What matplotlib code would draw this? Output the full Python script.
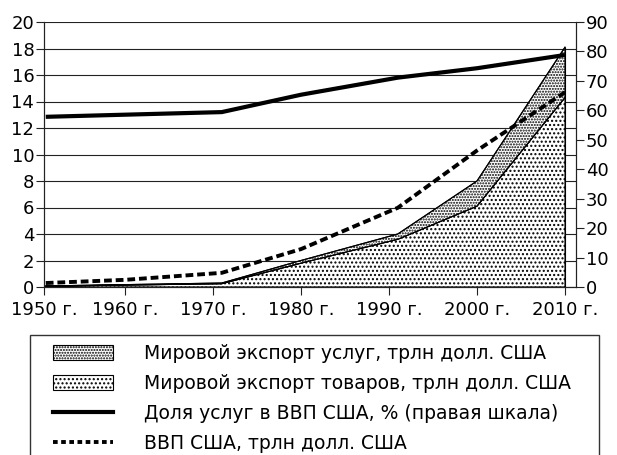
import matplotlib
matplotlib.use("Agg")
import matplotlib.pyplot as plt
from matplotlib.patches import Patch, Rectangle
from matplotlib.lines import Line2D

plt.rcParams['font.family'] = ['DejaVu Sans']
plt.rcParams['hatch.linewidth'] = 1.0
plt.rcParams['hatch.color'] = 'black'

# ---- data ----
area_years = [1951, 1971, 1980, 1991, 2000, 2010]
goods_exports = [0.06, 0.25, 1.8, 3.6, 6.1, 14.3]       # trln USD
services_exports = [0.02, 0.05, 0.2, 0.4, 1.9, 3.8]     # trln USD (stacked)
share_years = [1951, 1971, 1980, 1991, 2000, 2010]
services_share = [57.8, 59.4, 65.3, 71.1, 74.3, 78.8]  # % (right axis)
gdp_years = [1951, 1960, 1971, 1980, 1991, 2000, 2010]
us_gdp = [0.3, 0.54, 1.07, 2.86, 5.98, 10.3, 14.7]      # trln USD

tick_years = [1950, 1960, 1970, 1980, 1990, 2000, 2010]
tick_labels = [f"{y} г." for y in tick_years]
left_ticks = list(range(0, 21, 2))
right_ticks = list(range(0, 91, 10))

labels = ["Мировой экспорт услуг, трлн долл. США",
          "Мировой экспорт товаров, трлн долл. США",
          "Доля услуг в ВВП США, % (правая шкала)",
          "ВВП США, трлн долл. США"]

x_left, x_right = 1950.8, 2011.25
W, H = 617, 455

fig = plt.figure(figsize=(W/100, H/100), dpi=100)
ax = fig.add_axes([44/W, 1-287/H, (576-44)/W, (287-22)/H])
ax2 = ax.twinx()

total = [g + s for g, s in zip(goods_exports, services_exports)]

ax.fill_between(area_years, 0, goods_exports, facecolor='white',
                hatch='....', edgecolor='black', linewidth=0.8, zorder=2)
ax.fill_between(area_years, goods_exports, total, facecolor='white',
                hatch='......', edgecolor='black', linewidth=0.8, zorder=2)
ax.plot(area_years, goods_exports, color='black', lw=0.8, zorder=3)
ax.plot(area_years, total, color='black', lw=0.8, zorder=3)
ax.vlines(area_years[-1], 0, total[-1], color='black', lw=0.8, zorder=3)

ax.plot(gdp_years, us_gdp, color='black', lw=2.8, dashes=(2.0, 1.0),
        zorder=4)
ax2.plot(share_years, services_share, color='black', lw=3.0,
         solid_capstyle='butt', zorder=4)

ax.set_xlim(x_left, x_right)
ax.set_ylim(0, 20)
ax2.set_ylim(0, 90)

xt = [max(t, x_left) for t in tick_years]
ax.set_xticks(xt)
ax.set_xticklabels(tick_labels)
ax.set_yticks(left_ticks)
ax2.set_yticks(right_ticks)

ax.yaxis.grid(True, color='#222222', lw=0.8, zorder=0)
ax.set_axisbelow(True)

for a in (ax, ax2):
    a.spines['top'].set_visible(False)
    for s in a.spines.values():
        s.set_linewidth(0.8)
        s.set_color('#222222')
    a.tick_params(length=6, width=0.8, color='#222222', labelsize=13,
                  pad=1)
ax.tick_params(axis='x', pad=4)

# legend frame (extends past the bottom edge of the picture)
fig.patches.append(Rectangle((30/W, -0.05), (599-30)/W, 1-335/H+0.05,
                             transform=fig.transFigure, facecolor='white',
                             edgecolor='#333333', lw=1.0, zorder=0))

handles = [Patch(facecolor='white', edgecolor='black', hatch='......', lw=0.8),
           Patch(facecolor='white', edgecolor='black', hatch='....', lw=0.8),
           Line2D([], [], color='black', lw=3.0),
           Line2D([], [], color='black', lw=2.8, dashes=(1.2, 0.9))]
fs = 13.5
fpx = fs * 100 / 72
leg = fig.legend(handles, labels, loc='upper left',
                 bbox_to_anchor=(53/W, 1-344/H),
                 fontsize=fs, frameon=False,
                 handlelength=60/fpx, handleheight=0.85,
                 handletextpad=31/fpx, labelspacing=0.58, borderpad=0,
                 borderaxespad=0)

fig.savefig("out.png", dpi=100)
